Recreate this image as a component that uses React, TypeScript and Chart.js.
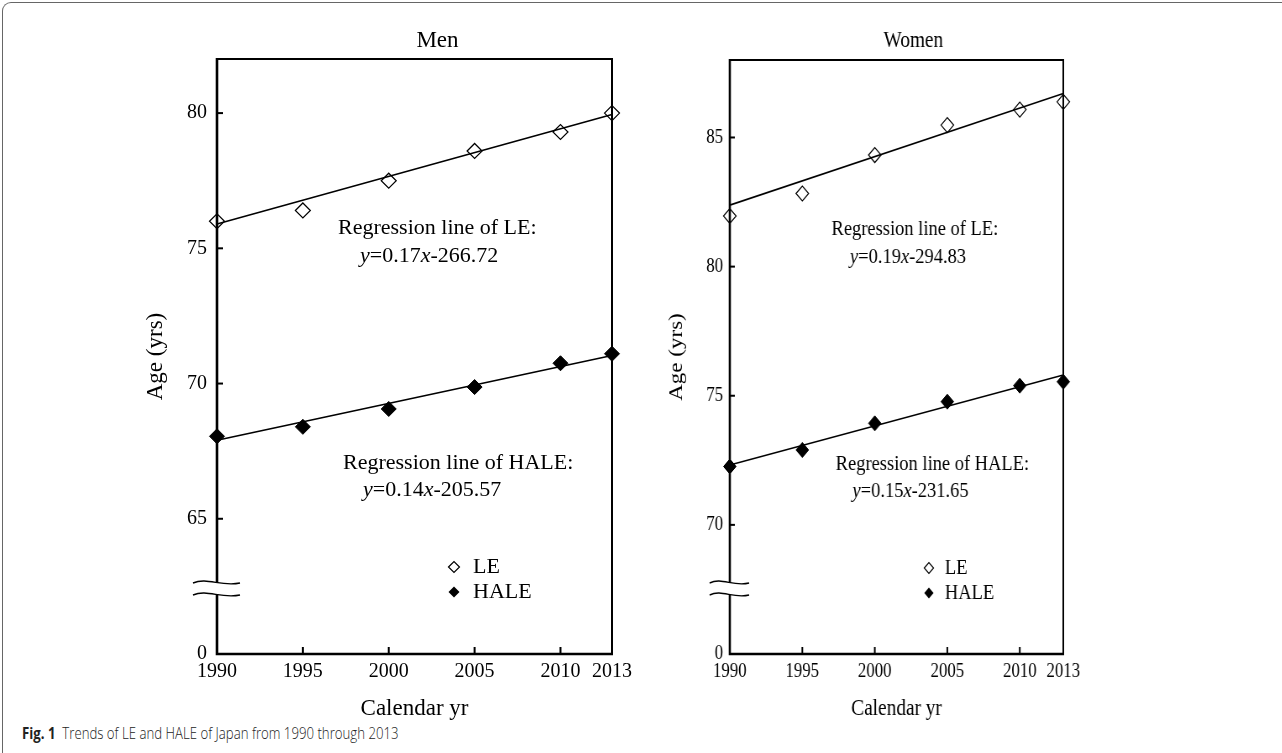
import React, { useEffect, useRef } from "react";
import { Chart, registerables } from "chart.js";
Chart.register(...registerables);

const SERIF = '"Liberation Serif", "Times New Roman", serif';

// ---- data ----
const YEARS = [1990, 1995, 2000, 2005, 2010, 2013];
const X_TICKS = [1990, 1995, 2000, 2005, 2010, 2013];
const FIT_YEARS = [1990, 2013];

const MEN_LE = [76.0, 76.4, 77.5, 78.6, 79.3, 80.0];
const MEN_HALE = [68.05, 68.4, 69.06, 69.87, 70.75, 71.1];
const MEN_LE_FIT = [75.9, 79.95];
const MEN_HALE_FIT = [67.9, 71.04];
const MEN_Y_TICKS = [60, 65, 70, 75, 80];
const MEN_Y_LABELS = ["0", "65", "70", "75", "80"];

const WOMEN_LE = [81.96, 82.83, 84.32, 85.48, 86.08, 86.38];
const WOMEN_HALE = [72.26, 72.9, 73.93, 74.77, 75.39, 75.54];
const WOMEN_LE_FIT = [82.38, 86.7];
const WOMEN_HALE_FIT = [72.32, 75.8];
const WOMEN_Y_TICKS = [65, 70, 75, 80, 85];
const WOMEN_Y_LABELS = ["0", "70", "75", "80", "85"];

const MEN_EQ_LE = ["0.17", "-266.72"];
const MEN_EQ_HALE = ["0.14", "-205.57"];
const WOMEN_EQ_LE = ["0.19", "-294.83"];
const WOMEN_EQ_HALE = ["0.15", "-231.65"];

type Panel = {
  title: string;
  le: number[];
  hale: number[];
  leFit: number[];
  haleFit: number[];
  yMin: number;
  yMax: number;
  yTicks: number[];
  yLabels: string[];
  eqLE: string[];
  eqHALE: string[];
  width: number;
  height: number;
  areaLeft: number;
  areaRight: number;
  areaTop: number;
  areaBottom: number;
  titleDx: number;
  yTitleX: number;
  yPad: number;
};

const xy = (xs: number[], ys: number[]) => xs.map((x, i) => ({ x, y: ys[i] }));

function drawEq(ctx: CanvasRenderingContext2D, x: number, y: number, parts: string[]) {
  const segs: [string, boolean][] = [
    ["y", true],
    ["=" + parts[0], false],
    ["x", true],
    [parts[1], false],
  ];
  let cx = x;
  for (const [t, it] of segs) {
    ctx.font = `${it ? "italic " : ""}22px ${SERIF}`;
    ctx.fillText(t, cx, y);
    cx += ctx.measureText(t).width;
  }
}

function diamond(ctx: CanvasRenderingContext2D, x: number, y: number, r: number, filled: boolean) {
  ctx.beginPath();
  ctx.moveTo(x - r, y);
  ctx.lineTo(x, y - r);
  ctx.lineTo(x + r, y);
  ctx.lineTo(x, y + r);
  ctx.closePath();
  if (filled) {
    ctx.fillStyle = "#000";
    ctx.fill();
  } else {
    ctx.fillStyle = "#fff";
    ctx.fill();
    ctx.lineWidth = 1.2;
    ctx.strokeStyle = "#000";
    ctx.stroke();
  }
}

function makeOverlay(p: Panel) {
  return {
    id: "overlay",
    afterDraw(chart: any) {
      const ctx: CanvasRenderingContext2D = chart.ctx;
      const a = chart.chartArea;
      const xs = chart.scales.x;
      const ys = chart.scales.y;
      ctx.save();
      ctx.strokeStyle = "#000";
      ctx.fillStyle = "#000";
      ctx.lineCap = "butt";
      // frame
      ctx.lineWidth = 2;
      ctx.beginPath();
      ctx.moveTo(a.left, a.top);
      ctx.lineTo(a.right, a.top);
      ctx.lineTo(a.right, a.bottom);
      ctx.stroke();
      ctx.lineWidth = 2.6;
      ctx.beginPath();
      ctx.moveTo(a.left, a.top - 1);
      ctx.lineTo(a.left, a.bottom);
      ctx.lineTo(a.right + 1, a.bottom);
      ctx.stroke();
      // inner ticks
      ctx.lineWidth = 2;
      for (const v of p.yTicks.slice(1)) {
        const y = ys.getPixelForValue(v);
        ctx.beginPath();
        ctx.moveTo(a.left, y);
        ctx.lineTo(a.left + 6, y);
        ctx.stroke();
      }
      for (const v of X_TICKS.slice(1, -1)) {
        const x = xs.getPixelForValue(v);
        ctx.beginPath();
        ctx.moveTo(x, a.bottom);
        ctx.lineTo(x, a.bottom - 7);
        ctx.stroke();
      }
      // axis break
      const x0 = a.left - 24;
      const x1 = a.left + 23;
      const w = x1 - x0;
      const yb1 = a.bottom - 72;
      const yb2 = a.bottom - 60;
      const curve = (y: number) => {
        ctx.moveTo(x0, y + 1);
        ctx.bezierCurveTo(x0 + w * 0.3, y - 5, x0 + w * 0.6, y + 5, x1, y + 1);
      };
      ctx.beginPath();
      curve(yb1);
      ctx.lineTo(x1, yb2 + 1);
      ctx.bezierCurveTo(x0 + w * 0.6, yb2 + 5, x0 + w * 0.3, yb2 - 5, x0, yb2 + 1);
      ctx.closePath();
      ctx.fillStyle = "#fff";
      ctx.fill();
      ctx.lineWidth = 1.4;
      ctx.beginPath();
      curve(yb1);
      ctx.stroke();
      ctx.beginPath();
      curve(yb2);
      ctx.stroke();
      ctx.fillStyle = "#000";
      // titles
      ctx.textBaseline = "middle";
      ctx.textAlign = "center";
      ctx.font = `23px ${SERIF}`;
      ctx.fillText(p.title, (a.left + a.right) / 2 + p.titleDx, 21);
      ctx.fillText("Calendar yr", (a.left + a.right) / 2, a.bottom + 55);
      ctx.save();
      ctx.translate(p.yTitleX, (a.top + a.bottom) / 2);
      ctx.rotate(-Math.PI / 2);
      ctx.fillText("Age (yrs)", 0, 0);
      ctx.restore();
      // annotations
      ctx.textAlign = "left";
      ctx.font = `22px ${SERIF}`;
      ctx.fillText("Regression line of LE:", a.left + 121, a.top + 169);
      drawEq(ctx, a.left + 143, a.top + 197, p.eqLE);
      ctx.font = `22px ${SERIF}`;
      ctx.fillText("Regression line of HALE:", a.left + 126, a.top + 404);
      drawEq(ctx, a.left + 146, a.top + 431, p.eqHALE);
      // legend
      diamond(ctx, a.left + 237, a.top + 508, 5.5, false);
      diamond(ctx, a.left + 237, a.top + 533, 5.5, true);
      ctx.fillStyle = "#000";
      ctx.font = `22px ${SERIF}`;
      ctx.fillText("LE", a.left + 256, a.top + 508);
      ctx.fillText("HALE", a.left + 256, a.top + 533);
      ctx.restore();
    },
  };
}

function makeConfig(p: Panel): any {
  return {
    type: "scatter",
    data: {
      datasets: [
        {
          label: "LE fit",
          data: xy(FIT_YEARS, p.leFit),
          showLine: true,
          borderColor: "#000",
          borderWidth: 1.6,
          pointRadius: 0,
          clip: false,
        },
        {
          label: "HALE fit",
          data: xy(FIT_YEARS, p.haleFit),
          showLine: true,
          borderColor: "#000",
          borderWidth: 1.6,
          pointRadius: 0,
          clip: false,
        },
        {
          label: "LE",
          data: xy(YEARS, p.le),
          pointStyle: "rectRot",
          pointRadius: 7.5,
          backgroundColor: "rgba(255,255,255,0)",
          borderColor: "#000",
          borderWidth: 1.2,
          clip: false,
        },
        {
          label: "HALE",
          data: xy(YEARS, p.hale),
          pointStyle: "rectRot",
          pointRadius: 7.5,
          backgroundColor: "#000",
          borderColor: "#000",
          borderWidth: 1,
          clip: false,
        },
      ],
    },
    options: {
      animation: false,
      responsive: false,
      events: [],
      layout: {
        padding: { top: p.areaTop, right: p.width - p.areaRight, left: 0, bottom: 0 },
      },
      plugins: { legend: { display: false }, tooltip: { enabled: false }, title: { display: false } },
      scales: {
        x: {
          type: "linear",
          min: 1990,
          max: 2013,
          grid: { display: false, drawTicks: false },
          border: { display: false },
          afterBuildTicks: (s: any) => {
            s.ticks = X_TICKS.map((v) => ({ value: v }));
          },
          afterFit: (s: any) => {
            s.height = p.height - p.areaBottom;
          },
          ticks: {
            color: "#000",
            font: { family: SERIF, size: 20 },
            padding: 6,
            maxRotation: 0,
            autoSkip: false,
            callback: (v: number) => String(v),
          },
        },
        y: {
          type: "linear",
          min: p.yMin,
          max: p.yMax,
          grid: { display: false, drawTicks: false },
          border: { display: false },
          afterBuildTicks: (s: any) => {
            s.ticks = p.yTicks.map((v) => ({ value: v }));
          },
          afterFit: (s: any) => {
            s.width = p.areaLeft;
          },
          ticks: {
            color: "#000",
            font: { family: SERIF, size: 20 },
            padding: p.yPad,
            autoSkip: false,
            callback: (v: number) => {
              const i = p.yTicks.indexOf(v);
              return i >= 0 ? p.yLabels[i] : "";
            },
          },
        },
      },
    },
    plugins: [makeOverlay(p)],
  };
}

const MEN: Panel = {
  title: "Men",
  le: MEN_LE,
  hale: MEN_HALE,
  leFit: MEN_LE_FIT,
  haleFit: MEN_HALE_FIT,
  yMin: 60,
  yMax: 82,
  yTicks: MEN_Y_TICKS,
  yLabels: MEN_Y_LABELS,
  eqLE: MEN_EQ_LE,
  eqHALE: MEN_EQ_HALE,
  width: 520,
  height: 700,
  areaLeft: 97,
  areaRight: 492,
  areaTop: 39,
  areaBottom: 634,
  titleDx: 23,
  yTitleX: 36,
  yPad: 10,
};

const WOMEN: Panel = {
  title: "Women",
  le: WOMEN_LE,
  hale: WOMEN_HALE,
  leFit: WOMEN_LE_FIT,
  haleFit: WOMEN_HALE_FIT,
  yMin: 65,
  yMax: 88,
  yTicks: WOMEN_Y_TICKS,
  yLabels: WOMEN_Y_LABELS,
  eqLE: WOMEN_EQ_LE,
  eqHALE: WOMEN_EQ_HALE,
  width: 560,
  height: 700,
  areaLeft: 95,
  areaRight: 492,
  areaTop: 40,
  areaBottom: 634,
  titleDx: 20,
  yTitleX: 32,
  yPad: 8,
};

function PanelChart({ p, style }: { p: Panel; style: React.CSSProperties }) {
  const ref = useRef<HTMLCanvasElement | null>(null);
  useEffect(() => {
    if (!ref.current) return;
    const chart = new Chart(ref.current, makeConfig(p));
    return () => chart.destroy();
  }, [p]);
  return (
    <canvas
      ref={ref}
      width={p.width}
      height={p.height}
      style={{ position: "absolute", width: p.width, height: p.height, ...style }}
    />
  );
}

export default function App() {
  return (
    <div
      style={{
        position: "absolute",
        left: 0,
        top: 0,
        width: 1282,
        height: 753,
        overflow: "hidden",
        background: "#fff",
      }}
    >
      <div
        style={{
          position: "absolute",
          left: 2,
          top: 2,
          width: 1300,
          height: 800,
          borderLeft: "1.5px solid #666",
          borderTop: "1.5px solid #666",
          borderTopLeftRadius: 9,
        }}
      />
      <PanelChart p={MEN} style={{ left: 120, top: 20 }} />
      <PanelChart
        p={WOMEN}
        style={{ left: 650, top: 20, transform: "scaleX(0.84)", transformOrigin: "0 0" }}
      />
      <div
        style={{
          position: "absolute",
          left: 22,
          top: 721,
          fontFamily: '"Open Sans", sans-serif',
          fontSize: 16.5,
          color: "#222",
          whiteSpace: "nowrap",
          lineHeight: "24px",
          transform: "scaleX(0.8)",
          transformOrigin: "0 0",
        }}
      >
        <span style={{ fontWeight: 700 }}>Fig. 1</span>
        <span style={{ fontWeight: 300 }}>&nbsp;&nbsp;Trends of LE and HALE of Japan from 1990 through 2013</span>
      </div>
    </div>
  );
}
